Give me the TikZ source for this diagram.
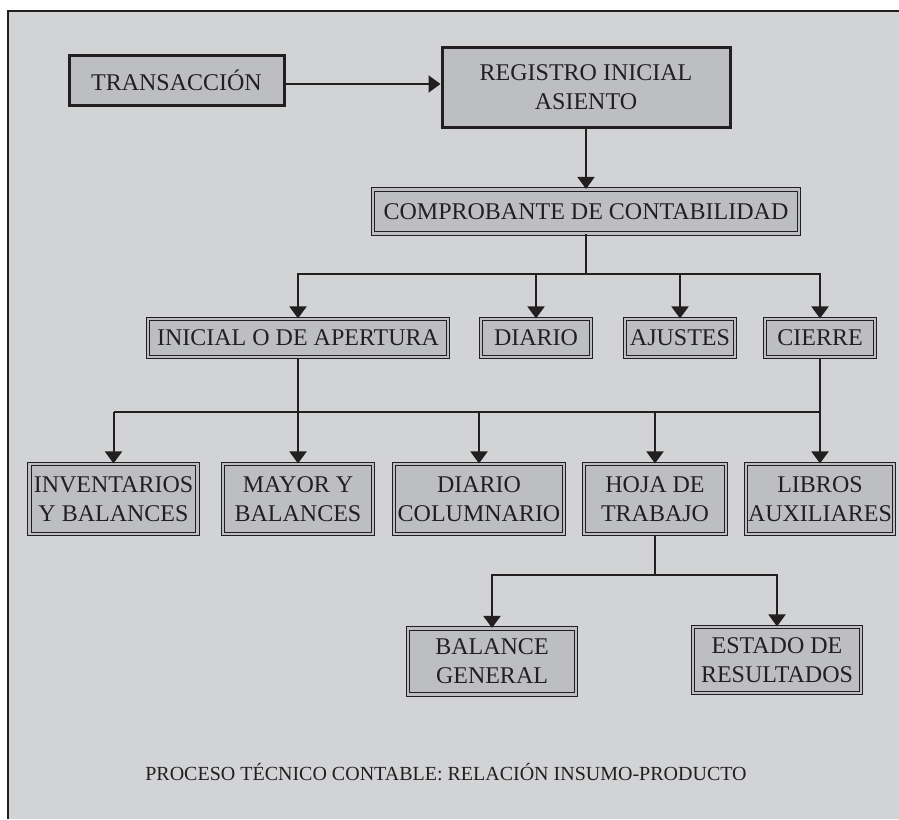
\documentclass[tikz,border=0pt]{standalone}
\usepackage{fontspec}
\setmainfont{Liberation Serif}
\usepackage{tikz}
\usetikzlibrary{arrows.meta,positioning}
\definecolor{fondo}{HTML}{D2D3D5}
\definecolor{caja}{HTML}{BDBEC1}
\definecolor{tinta}{HTML}{231F20}

\begin{document}
\begin{tikzpicture}[x=0.5pt,y=-0.5pt,
    caja/.style={draw=tinta,double=caja,double distance=1.1pt,line width=0.55pt,fill=caja,
      inner sep=0pt,align=center,text=tinta,font=\fontsize{12}{14.5}\selectfont},
    cajagruesa/.style={draw=tinta,line width=1.5pt,fill=caja,inner sep=0pt,align=center,
      text=tinta,font=\fontsize{12}{14.5}\selectfont},
    flecha/.style={draw=tinta,line width=1pt,-{Triangle[width=8.5pt,length=6pt]}},
    linea/.style={draw=tinta,line width=1pt}]
    \useasboundingbox (0,0) rectangle (899,819);
    \fill[fondo] (8,11) rectangle (899,819);
    \draw[tinta,line width=0.8pt] (8,819) -- (8,11) -- (899,11);

    \node[cajagruesa,minimum width=107.5pt,minimum height=25pt] (T) at (176.5,80) {TRANSACCIÓN};
    \node[cajagruesa,minimum width=144pt,minimum height=40pt] (R) at (586,87) {REGISTRO INICIAL\\ASIENTO};
    \node[caja,minimum width=213pt,minimum height=22pt] (C) at (586,211.5) {COMPROBANTE DE CONTABILIDAD};
    \draw[flecha] (T.east |- 0,84) -- (R.west |- 0,84);
    \draw[flecha] (R) -- (C);

    \node[caja,minimum width=150pt,minimum height=19pt] (I) at (298,338) {INICIAL O DE APERTURA};
    \node[caja,minimum width=55pt,minimum height=19pt] (D) at (536,338) {DIARIO};
    \node[caja,minimum width=55pt,minimum height=19pt] (A) at (680,338) {AJUSTES};
    \node[caja,minimum width=55pt,minimum height=19pt] (Ci) at (820,338) {CIERRE};
    \coordinate (b1) at (586,274);
    \draw[linea] (C) -- (b1);
    \draw[flecha] (b1) -| (I);
    \draw[flecha] (b1) -| (Ci);
    \draw[flecha] (D |- b1) -- (D);
    \draw[flecha] (A |- b1) -- (A);

    \node[caja,minimum width=84pt,minimum height=35pt] (In) at (113.5,499) {INVENTARIOS\\Y BALANCES};
    \node[caja,minimum width=75pt,minimum height=35pt] (M) at (298,499) {MAYOR Y\\BALANCES};
    \node[caja,minimum width=85pt,minimum height=35pt] (Co) at (479,499) {DIARIO\\COLUMNARIO};
    \node[caja,minimum width=71pt,minimum height=35pt] (H) at (655,499) {HOJA DE\\TRABAJO};
    \node[caja,minimum width=74pt,minimum height=35pt] (L) at (820,499) {LIBROS\\AUXILIARES};
    \coordinate (b2) at (0,412);
    \draw[linea] (I) -- (I |- b2);
    \draw[linea] (In |- b2) -- (L |- b2);
    \draw[flecha] (In |- b2) -- (In);
    \draw[flecha] (I |- b2) -- (M);
    \draw[flecha] (Co |- b2) -- (Co);
    \draw[flecha] (H |- b2) -- (H);
    \draw[flecha] (Ci) -- (L);

    \node[caja,minimum width=84pt,minimum height=33pt] (B) at (492,661.5) {BALANCE\\GENERAL};
    \node[caja,minimum width=84pt,minimum height=33pt] (E) at (777,660) {ESTADO DE\\RESULTADOS};
    \coordinate (b3) at (0,575);
    \draw[linea] (H) -- (H |- b3);
    \draw[flecha] (H |- b3) -| (B);
    \draw[flecha] (H |- b3) -| (E);

    \node[text=tinta,font=\fontsize{10}{12}\selectfont] (P) at (446,772) {PROCESO TÉCNICO CONTABLE: RELACIÓN INSUMO-PRODUCTO};
\end{tikzpicture}
\end{document}
